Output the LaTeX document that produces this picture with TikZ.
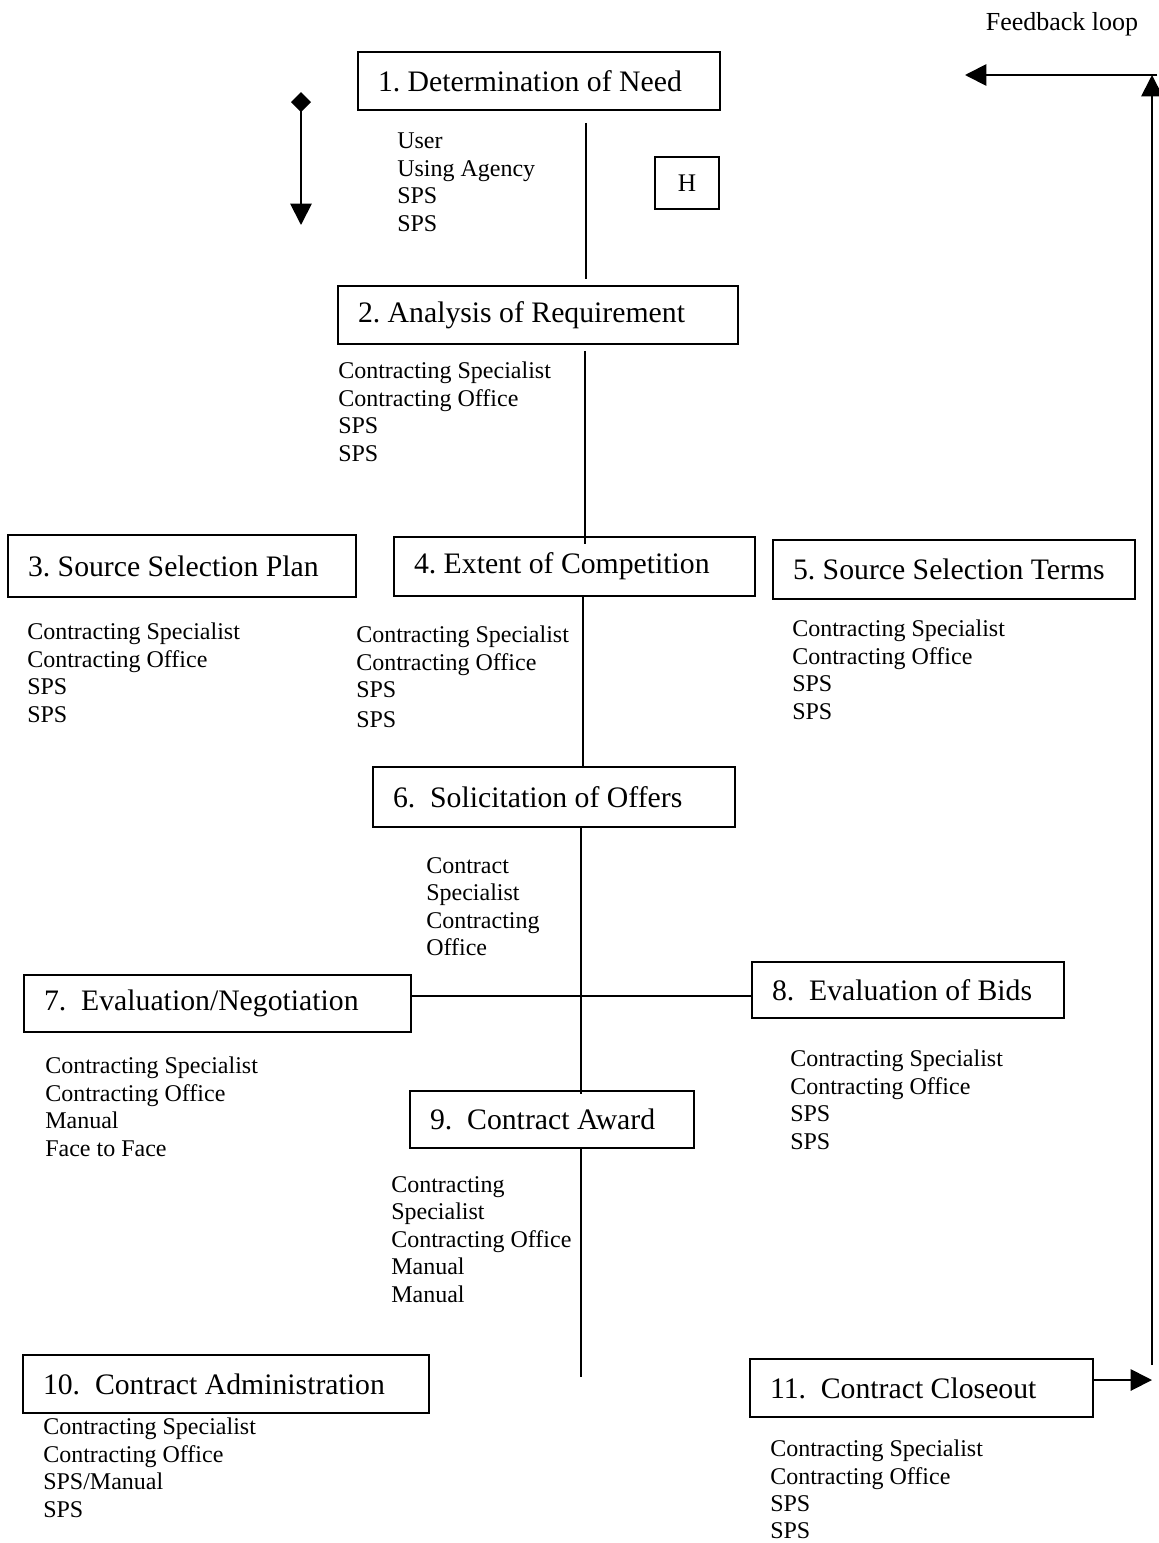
\documentclass[tikz,border=0pt]{standalone}
\usepackage{fontspec}
\setmainfont{Liberation Serif}
\usetikzlibrary{arrows.meta}
\newcommand\lefttxt[2]{\makebox[#1][l]{#2}}
\begin{document}
\begin{tikzpicture}[x=0.75pt,y=-0.75pt,
  stage/.style={draw, line width=1.4pt, inner xsep=15pt, inner ysep=0pt,
    font=\fontsize{22.3}{24}\selectfont\frenchspacing},
  info/.style={anchor=north west, inner sep=0pt, align=left,
    font=\fontsize{18}{20.6}\selectfont},
  conn/.style={line width=1.4pt},
  tip/.style={-{Triangle[length=16pt,width=16pt]}}
]
\useasboundingbox (0,0) rectangle (1159,1543);

% stages
\node[stage, minimum width=271.5pt, minimum height=43.5pt] (b1) at (539,81) {\lefttxt{241.5pt}{1. Determination of Need}};
\node[stage, minimum width=300pt, minimum height=43.5pt] (b2) at (538,315) {\lefttxt{270pt}{2. Analysis of Requirement}};
\node[stage, minimum width=261pt, minimum height=46.5pt] (b3) at (182,566) {\lefttxt{231pt}{3. Source Selection Plan}};
\node[stage, minimum width=270.75pt, minimum height=44.25pt] (b4) at (574.5,566.5) {\lefttxt{240.75pt}{4. Extent of Competition}};
\node[stage, minimum width=271.5pt, minimum height=44.25pt] (b5) at (954,569.5) {\lefttxt{241.5pt}{5. Source Selection Terms}};
\node[stage, minimum width=271.5pt, minimum height=45pt] (b6) at (554,797) {\lefttxt{241.5pt}{6.~~Solicitation of Offers}};
\node[stage, minimum width=290.25pt, minimum height=42.75pt] (b7) at (217.5,1003.5) {\lefttxt{260.25pt}{7.~~Evaluation/Negotiation}};
\node[stage, minimum width=234pt, minimum height=42pt] (b8) at (908,990) {\lefttxt{204pt}{8.~~Evaluation of Bids}};
\node[stage, minimum width=213pt, minimum height=42.75pt] (b9) at (552,1119.5) {\lefttxt{183pt}{9.~~Contract Award}};
\node[stage, minimum width=304.5pt, minimum height=43.5pt] (b10) at (226,1384) {\lefttxt{274.5pt}{10.~~Contract Administration}};
\node[stage, minimum width=257.25pt, minimum height=43.5pt] (b11) at (921.5,1388) {\lefttxt{227.25pt}{11.~~Contract Closeout}};

\node[draw, line width=1.4pt, minimum width=48pt, minimum height=39pt, inner sep=0pt,
  font=\fontsize{19}{22}\selectfont] (h) at (687,183) {H};

% role lists
\node[info] (l1) at (397,133) {User\\Using Agency\\SPS\\SPS};
\node[info] (l2) at (338,362) {Contracting Specialist\\Contracting Office\\SPS\\SPS};
\node[info] (l3) at (27,623) {Contracting Specialist\\Contracting Office\\SPS\\SPS};
\node[info] (l4) at (356,626) {Contracting Specialist\\Contracting Office\\SPS\\[2pt]SPS};
\node[info] (l5) at (792,620) {Contracting Specialist\\Contracting Office\\SPS\\SPS};
\node[info] (l6) at (426,857) {Contract\\Specialist\\Contracting\\Office};
\node[info] (l7) at (45,1057) {Contracting Specialist\\Contracting Office\\Manual\\Face to Face};
\node[info] (l8) at (790,1050) {Contracting Specialist\\Contracting Office\\SPS\\SPS};
\node[info] (l9) at (391,1176) {Contracting\\Specialist\\Contracting Office\\Manual\\Manual};
\node[info] (l10) at (43,1418) {Contracting Specialist\\Contracting Office\\SPS/Manual\\SPS};
\node[info] (l11) at (770,1440) {Contracting Specialist\\Contracting Office\\SPS\\[-1pt]SPS};

\node[font=\fontsize{19.5}{22}\selectfont, inner sep=0pt] (fb) at (1062,24) {Feedback loop};

% spine
\coordinate (c1) at (586,0);
\coordinate (c2) at (585,0);
\coordinate (c3) at (583,0);
\coordinate (c4) at (581,0);
\coordinate (spineEnd) at (581,1377);
\draw[conn, shorten <=9pt, shorten >=4.5pt] (b1.south -| c1) -- (b2.north -| c1);
\draw[conn, shorten <=4.5pt, shorten >=-6pt] (b2.south -| c2) -- (b4.north -| c2);
\draw[conn] (b4.south -| c3) -- (b6.north -| c3);
\draw[conn, shorten >=-3pt] (b6.south -| c4) -- (b9.north -| c4);
\draw[conn] (b9.south -| c4) -- (spineEnd);

% cross link 7 - 8
\coordinate (hy) at (0,996);
\draw[conn] (b7.east |- hy) -- (b8.west |- hy);

% left indicator arrow
\coordinate (ia) at (301,92);
\coordinate (ib) at (301,225);
\draw[conn, {Diamond[length=15pt,width=15pt]}-{Triangle[length=16pt,width=16pt]}] (ia) -- (ib);

% feedback loop
\coordinate (fa) at (1152,1380);
\coordinate (fb0) at (1152,1365);
\coordinate (ft) at (1152,75);
\coordinate (fl) at (965,75);
\draw[conn, tip] (b11.east |- fa) -- (fa);
\draw[conn, tip] (fb0) -- (ft);
\draw[conn, tip] ([xshift=4pt]ft) -- (fl);
\end{tikzpicture}
\end{document}
